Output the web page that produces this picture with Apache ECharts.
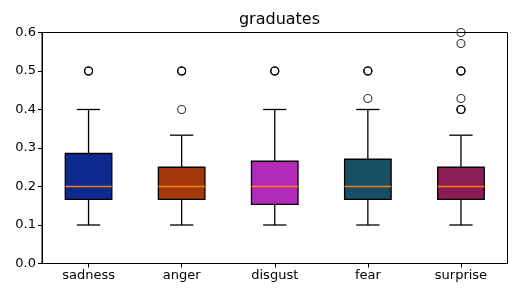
<!DOCTYPE html>
<html>
<head>
<meta charset="utf-8">
<script src="https://cdn.jsdelivr.net/npm/echarts@6/dist/echarts.min.js"></script>
<style>html,body{margin:0;padding:0;background:#fff;}#c{width:516px;height:297px;}</style>
</head>
<body>
<div id="c"></div>
<script>
const categories = ['sadness', 'anger', 'disgust', 'fear', 'surprise'];
const whiskerLow = [0.1, 0.1, 0.1, 0.1, 0.1];
const q1 = [0.1667, 0.1667, 0.1538, 0.1667, 0.1667];
const median = [0.2, 0.2, 0.2, 0.2, 0.2];
const q3 = [0.2857, 0.25, 0.2656, 0.2708, 0.25];
const whiskerHigh = [0.4, 0.3333, 0.4, 0.4, 0.3333];
const boxColors = ['#0f2a8e', '#a3390a', '#b22bb8', '#184e66', '#8a1c56'];
const outliers = [
  [0.5, 0.5, 0.5],
  [0.4, 0.5, 0.5, 0.5],
  [0.5, 0.5, 0.5],
  [0.4286, 0.5, 0.5, 0.5],
  [0.4, 0.4, 0.4, 0.4286, 0.5, 0.5, 0.5, 0.5714, 0.6]
];
const yTicks = [0.0, 0.1, 0.2, 0.3, 0.4, 0.5, 0.6];

const boxData = categories.map((c, i) => [i, whiskerLow[i], q1[i], median[i], q3[i], whiskerHigh[i]]);
const outlierData = [];
outliers.forEach((arr, i) => arr.forEach(v => outlierData.push([i, v])));

const font = 'DejaVu Sans';
const chart = echarts.init(document.getElementById('c'), null, {renderer: 'canvas'});
chart.setOption({
  animation: false,
  title: {text: 'graduates', left: 274.5, top: 7, textAlign: 'center',
    textStyle: {fontFamily: font, fontSize: 16, fontWeight: 'normal', color: '#000'}},
  grid: {left: 42, right: 8.5, top: 32.5, bottom: 33.5, show: true, borderColor: '#000', borderWidth: 1, backgroundColor: 'transparent'},
  xAxis: {
    type: 'category', data: categories,
    axisLine: {show: true, lineStyle: {color: '#000', width: 1}},
    axisTick: {show: true, alignWithLabel: true, length: 4, lineStyle: {color: '#000'}},
    axisLabel: {fontFamily: font, fontSize: 13, color: '#000', margin: 6},
    splitLine: {show: false}
  },
  yAxis: {
    type: 'value', min: 0, max: 0.6, interval: 0.1,
    axisLine: {show: true, lineStyle: {color: '#000', width: 1}},
    axisTick: {show: true, length: 4, lineStyle: {color: '#000'}},
    axisLabel: {fontFamily: font, fontSize: 13, color: '#000', margin: 6,
      formatter: v => yTicks.reduce((a, t) => Math.abs(t - v) < 1e-9 ? t.toFixed(1) : a, v.toFixed(1))},
    splitLine: {show: false}
  },
  series: [
    {
      type: 'custom',
      data: boxData,
      encode: {x: 0, y: [1, 2, 3, 4, 5]},
      renderItem: function (params, api) {
        const i = api.value(0);
        const bw = api.size([1, 0])[0];
        const half = bw * 0.25;
        const capHalf = bw * 0.125;
        const pLow = api.coord([i, api.value(1)]);
        const pQ1 = api.coord([i, api.value(2)]);
        const pMed = api.coord([i, api.value(3)]);
        const pQ3 = api.coord([i, api.value(4)]);
        const pHigh = api.coord([i, api.value(5)]);
        const x = pLow[0];
        const ls = {stroke: '#000', lineWidth: 1.3};
        return {
          type: 'group',
          children: [
            {type: 'line', shape: {x1: x, y1: pLow[1], x2: x, y2: pQ1[1]}, style: ls},
            {type: 'line', shape: {x1: x, y1: pQ3[1], x2: x, y2: pHigh[1]}, style: ls},
            {type: 'line', shape: {x1: x - capHalf, y1: pLow[1], x2: x + capHalf, y2: pLow[1]}, style: ls},
            {type: 'line', shape: {x1: x - capHalf, y1: pHigh[1], x2: x + capHalf, y2: pHigh[1]}, style: ls},
            {type: 'rect', shape: {x: x - half, y: pQ3[1], width: 2 * half, height: pQ1[1] - pQ3[1]},
              style: {fill: boxColors[i], stroke: '#000', lineWidth: 1.3}},
            {type: 'line', shape: {x1: x - half, y1: pMed[1], x2: x + half, y2: pMed[1]},
              style: {stroke: '#ff7f0e', lineWidth: 1.4}}
          ]
        };
      }
    },
    {
      type: 'scatter',
      data: outlierData,
      symbol: 'circle',
      symbolSize: 8,
      itemStyle: {color: 'rgba(0,0,0,0)', borderColor: '#000', borderWidth: 1.1},
      z: 5
    }
  ]
});
</script>
</body>
</html>
